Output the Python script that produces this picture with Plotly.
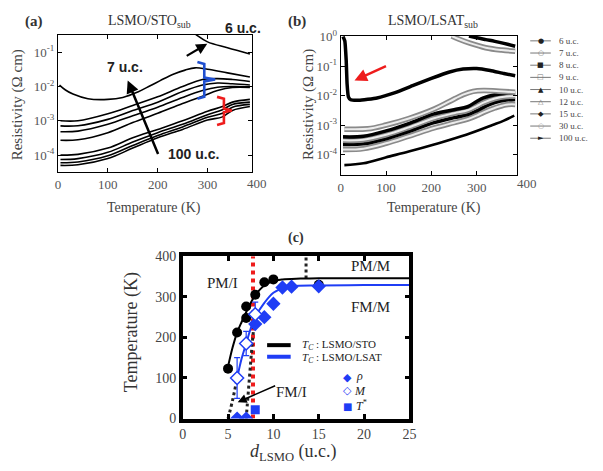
import plotly.graph_objects as go

W, H = 603, 471
def px(x): return x / W
def py(y): return 1 - y / H

SERIF = "Liberation Serif"
SANS = "Liberation Sans"
BLUE = "#1f3df5"
RED = "#ee1c1c"

# ---------------- Panel (a): LSMO/STO resistivity ----------------
T_a6 = [265, 278, 300, 340, 385]
rho_a6 = [0.447, 0.316, 0.200, 0.135, 0.089]
T_a7 = [3, 15, 30, 60, 100, 130, 160, 185, 205, 230, 255, 275, 300, 340, 385]
rho_a7 = [1.10e-2, 7.9e-3, 6.0e-3, 4.4e-3, 4.2e-3, 4.8e-3, 6.9e-3, 1.05e-2,
          1.48e-2, 2.24e-2, 3.0e-2, 3.5e-2, 3.2e-2, 2.5e-2, 1.9e-2]
T_a_up = [5, 40, 100, 150, 200, 250, 290, 320, 350, 385]
rho_a8 = [1.0e-3, 1.0e-3, 1.6e-3, 2.8e-3, 5.0e-3, 1.0e-2, 1.6e-2, 1.7e-2, 1.6e-2, 1.4e-2]
rho_a9 = [7.1e-4, 7.2e-4, 1.1e-3, 2.0e-3, 3.5e-3, 7.1e-3, 1.1e-2, 1.26e-2, 1.2e-2, 1.1e-2]
rho_a10 = [4.8e-4, 5.0e-4, 7.9e-4, 1.4e-3, 2.5e-3, 4.8e-3, 7.6e-3, 9.5e-3, 1.0e-2, 9.8e-3]
rho_a12 = [2.7e-4, 2.8e-4, 4.5e-4, 8.9e-4, 1.66e-3, 3.2e-3, 5.2e-3, 7.6e-3, 9.3e-3, 9.3e-3]
T_a_lo = [5, 40, 100, 150, 200, 250, 300, 330, 350, 385]
rho_a15 = [1.0e-4, 1.05e-4, 1.6e-4, 3.2e-4, 5.6e-4, 1.0e-3, 1.9e-3, 2.6e-3, 3.5e-3, 4.2e-3]
rho_a20 = [7.4e-5, 7.9e-5, 1.2e-4, 2.4e-4, 4.5e-4, 7.9e-4, 1.5e-3, 2.1e-3, 3.0e-3, 3.5e-3]
rho_a30 = [6.0e-5, 6.3e-5, 9.5e-5, 1.9e-4, 3.7e-4, 6.6e-4, 1.26e-3, 1.66e-3, 2.5e-3, 3.0e-3]
rho_a100 = [5.0e-5, 5.2e-5, 7.9e-5, 1.6e-4, 3.2e-4, 5.6e-4, 1.05e-3, 1.3e-3, 2.0e-3, 2.6e-3]

# ---------------- Panel (b): LSMO/LSAT resistivity ----------------
T_b6 = [283, 300, 320, 340, 360, 385]
rho_b6 = [1.05, 0.91, 0.79, 0.69, 0.59, 0.47]
T_b7 = [245, 260, 285, 320, 355, 385]
rho_b7 = [1.05, 0.83, 0.60, 0.42, 0.35, 0.32]
T_b8 = [5, 9, 12, 14, 17, 22, 40, 80, 120, 160, 200, 240, 270, 300, 330, 360, 385]
rho_b8 = [1.0, 0.71, 0.16, 0.025, 8.9e-3, 7.2e-3, 6.9e-3, 8.3e-3, 1.26e-2, 2.2e-2,
          3.8e-2, 6.3e-2, 7.9e-2, 8.3e-2, 7.1e-2, 5.6e-2, 4.7e-2]
T_b9 = [8, 60, 100, 150, 206, 240, 270, 292, 315, 350, 385]
rho_b9 = [7.24e-4, 7.41e-4, 1.0e-3, 1.66e-3, 3.47e-3, 6.31e-3, 1.07e-2, 1.38e-2, 1.48e-2, 1.41e-2, 1.29e-2]
T_b_mid = [5, 50, 100, 150, 206, 250, 280, 300, 315, 340, 365, 385]
rho_b10 = [3.98e-4, 4.17e-4, 6.31e-4, 1.12e-3, 2.40e-3, 3.31e-3, 4.17e-3, 6.31e-3, 8.32e-3, 1.07e-2, 1.20e-2, 1.23e-2]
rho_b12 = [3.02e-4, 3.16e-4, 4.68e-4, 8.32e-4, 1.70e-3, 2.51e-3, 3.16e-3, 4.37e-3, 5.75e-3, 7.94e-3, 9.33e-3, 9.55e-3]
rho_b15 = [2.19e-4, 2.29e-4, 3.39e-4, 6.03e-4, 1.20e-3, 1.78e-3, 2.24e-3, 3.02e-3, 3.98e-3, 5.75e-3, 7.08e-3, 7.41e-3]
rho_b30 = [1.48e-4, 1.58e-4, 2.40e-4, 4.17e-4, 7.94e-4, 1.20e-3, 1.58e-3, 2.09e-3, 2.69e-3, 3.80e-3, 4.90e-3, 5.01e-3]
T_b100 = [8, 50, 99, 150, 206, 277, 335, 360, 383]
rho_b100 = [4.37e-5, 5.01e-5, 7.94e-5, 1.26e-4, 2.19e-4, 4.68e-4, 1.0e-3, 1.41e-3, 2.09e-3]
legend_b = ["6 u.c.", "7 u.c.", "8 u.c.", "9 u.c.", "10 u.c.", "12 u.c.", "15 u.c.", "30 u.c.", "100 u.c."]
legend_b_sym = ["●", "○", "■", "□", "▲", "△", "◆", "○", "►"]
legend_b_col = ["#222", "#777", "#222", "#777", "#222", "#777", "#222", "#999", "#222"]

# ---------------- Panel (c): phase diagram ----------------
d_sto = [5, 6, 7, 7, 8, 9, 10, 15]
Tc_sto = [123, 212, 248, 276, 305, 336, 343, 330]
d_sto_fit = [4.9, 5.5, 6, 6.5, 7, 7.5, 8, 9, 10, 11, 13, 15, 20, 25]
T_sto_fit = [118, 175, 212, 238, 262, 285, 304, 328, 339, 343, 345, 346, 346, 346]
d_rho = [6, 7, 8, 9, 10, 11, 12, 15]
Tc_rho = [0, 0, 233, 250, 283, 323, 325, 326]
d_M = [6, 7, 8]
Tc_M = [100, 185, 257]
err_M = [50, 30, 30]
d_Tstar = [8]
T_star = [22]
d_lsat_fit = [6, 6.5, 7, 7.5, 8, 9, 10, 11, 12, 15, 20, 25]
T_lsat_fit = [100, 148, 185, 222, 250, 285, 310, 321, 326, 328, 329, 329]
d_dot1 = [5, 5.5, 6]
T_dot1 = [0, 45, 100]
d_dot2 = [7, 7.25, 7.5, 7.75, 8]
T_dot2 = [0, 70, 140, 205, 255]
d_red = [7.75, 7.75]
T_red = [0, 400]
d_vdot = [13.6, 13.6]
T_vdot = [345, 400]

fig = go.Figure()

def line(x, y, xa, ya, color="black", width=1.5, dash=None, shape="spline", smoothing=1.0):
    fig.add_trace(go.Scatter(x=x, y=y, xaxis=xa, yaxis=ya, mode="lines",
                             line=dict(color=color, width=width, dash=dash, shape=shape,
                                       smoothing=smoothing if shape == "spline" else None),
                             hoverinfo="skip", showlegend=False))

# panel (a)
for rr, TT in [(rho_a6, T_a6), (rho_a7, T_a7), (rho_a8, T_a_up), (rho_a9, T_a_up),
               (rho_a10, T_a_up), (rho_a12, T_a_up), (rho_a15, T_a_lo), (rho_a20, T_a_lo),
               (rho_a30, T_a_lo), (rho_a100, T_a_lo)]:
    line(TT, rr, "x", "y", width=1.6)

# panel (b)
def hollow(T, r):
    line(T, r, "x2", "y2", color="#8a8a8a", width=5.5)
    line(T, r, "x2", "y2", color="#ececec", width=2)

line(T_b100, rho_b100, "x2", "y2", width=2.6)
hollow(T_b30, rho_b30) if False else None
hollow(T_b_mid, rho_b30)
line(T_b_mid, rho_b15, "x2", "y2", width=3.5)
hollow(T_b_mid, rho_b12)
line(T_b_mid, rho_b10, "x2", "y2", width=3.5)
hollow(T_b9, rho_b9)
line(T_b8, rho_b8, "x2", "y2", width=3.5, smoothing=0.4)
hollow(T_b7, rho_b7)
line(T_b6, rho_b6, "x2", "y2", width=3.5)

# panel (c)
line(d_red, T_red, "x3", "y3", color=RED, width=4, dash="dot", shape="linear")
line(d_vdot, T_vdot, "x3", "y3", color="#222", width=3, dash="dot", shape="linear")
line(d_dot1, T_dot1, "x3", "y3", color="#222", width=3, dash="dot")
line(d_dot2, T_dot2, "x3", "y3", color="#222", width=3, dash="dot")
line(d_sto_fit, T_sto_fit, "x3", "y3", color="black", width=2)
line(d_lsat_fit, T_lsat_fit, "x3", "y3", color=BLUE, width=2)
fig.add_trace(go.Scatter(x=d_sto, y=Tc_sto, xaxis="x3", yaxis="y3", mode="markers",
                         marker=dict(symbol="circle", size=10, color="black"), showlegend=False))
fig.add_trace(go.Scatter(x=d_rho, y=Tc_rho, xaxis="x3", yaxis="y3", mode="markers",
                         marker=dict(symbol="diamond", size=11, color=BLUE), showlegend=False))
fig.add_trace(go.Scatter(x=d_M, y=Tc_M, xaxis="x3", yaxis="y3", mode="markers",
                         error_y=dict(type="data", array=err_M, color=BLUE, thickness=1.2, width=3),
                         marker=dict(symbol="diamond", size=10, color="white",
                                     line=dict(color=BLUE, width=1.5)), showlegend=False))
fig.add_trace(go.Scatter(x=d_Tstar, y=T_star, xaxis="x3", yaxis="y3", mode="markers",
                         marker=dict(symbol="square", size=9, color=BLUE), showlegend=False))

tickfont_ab = dict(family=SERIF, size=13, color="#555")
common_ab = dict(showline=True, linecolor="black", linewidth=1, mirror="allticks", ticks="inside",
                 ticklen=4, tickcolor="black", showgrid=False, zeroline=False, tickfont=tickfont_ab)
logvals_a = [1e-4, 1e-3, 1e-2, 1e-1]
logtext_a = ["10<sup>-4</sup>", "10<sup>-3</sup>", "10<sup>-2</sup>", "10<sup>-1</sup>"]
logvals_b = [1e-4, 1e-3, 1e-2, 1e-1, 1]
logtext_b = ["10<sup>-4</sup>", "10<sup>-3</sup>", "10<sup>-2</sup>", "10<sup>-1</sup>", "10<sup>0</sup>"]
xt = [0, 100, 200, 300]

fig.update_layout(
    width=W, height=H, margin=dict(l=0, r=0, t=0, b=0),
    paper_bgcolor="white", plot_bgcolor="white", showlegend=False,
    xaxis=dict(domain=[px(55), px(253)], anchor="y", range=[0, 390], tickvals=xt, **common_ab),
    yaxis=dict(domain=[py(170), py(28)], anchor="x", type="log", range=[-4.5, -0.5],
               tickvals=logvals_a, ticktext=logtext_a, **common_ab),
    xaxis2=dict(domain=[px(343), px(523)], anchor="y2", range=[0, 390], tickvals=xt, **common_ab),
    yaxis2=dict(domain=[py(173), py(29)], anchor="x2", type="log", range=[-4.7, 0.02],
                tickvals=logvals_b, ticktext=logtext_b, **common_ab),
    xaxis3=dict(domain=[px(182), px(413)], anchor="y3", range=[0, 25], dtick=5,
                showline=True, linecolor="black", linewidth=3.5, mirror="allticks", ticks="inside",
                ticklen=5, tickwidth=2.5, tickcolor="black", showgrid=False, zeroline=False,
                tickfont=dict(family=SERIF, size=14, color="#444")),
    yaxis3=dict(domain=[py(425), py(257)], anchor="x3", range=[0, 400], dtick=100,
                showline=True, linecolor="black", linewidth=3.5, mirror="allticks", ticks="inside",
                ticklen=5, tickwidth=2.5, tickcolor="black", showgrid=False, zeroline=False,
                tickfont=dict(family=SERIF, size=14, color="#444")),
)

ann = []
def text(x, y, t, size=14, family=SERIF, color="#222", angle=0, xanchor="center"):
    ann.append(dict(x=px(x), y=py(y), xref="paper", yref="paper", text=t, showarrow=False,
                    font=dict(family=family, size=size, color=color), textangle=angle,
                    xanchor=xanchor, yanchor="middle"))

def arrow(hx, hy, tx, ty, color="black", width=2.5, head=2, size=1.0):
    ann.append(dict(x=px(hx), y=py(hy), xref="paper", yref="paper", text="", showarrow=True,
                    ax=tx - hx, ay=ty - hy, axref="pixel", ayref="pixel", arrowhead=head,
                    arrowsize=size, arrowwidth=width, arrowcolor=color, standoff=0))

# panel titles and labels
text(31, 14, "<b>(a)</b>", size=15, color="#333")
text(148, 14, "LSMO/STO<sub>sub</sub>", size=14, color="#333")
text(298, 14, "<b>(b)</b>", size=15, color="#333")
text(437, 14, "LSMO/LSAT<sub>sub</sub>", size=14, color="#333")
text(297, 238, "<b>(c)</b>", size=14, color="#333")
# axis titles
text(14, 100, "Resistivity (Ω cm)", size=15, color="#444", angle=-90)
text(153, 207, "Temperature (K)", size=14, color="#444")
text(310, 100, "Resistivity (Ω cm)", size=15, color="#444", angle=-90)
text(438, 207, "Temperature (K)", size=14, color="#444")
text(130, 336, "Temperature (K)", size=18, color="#333", angle=-90)
text(294, 460, "<i>d</i><sub>LSMO</sub> (u.c.)", size=18, color="#333")
# "400" labels at the right end of panels (a),(b)
text(258, 182, "400", size=13, color="#555")
text(533, 182, "400", size=13, color="#555")

# panel (a) annotations
text(243, 21, "<b>6 u.c.</b>", size=14, family=SANS, color="#222")
text(123, 61, "<b>7 u.c.</b>", size=14, family=SANS, color="#222")
text(193, 151, "<b>100 u.c.</b>", size=14, family=SANS, color="#222")
arrow(207, 37, 185, 50, width=2.2)
arrow(126, 75, 157, 150, width=2.5)
arrow(357, 75, 390, 60, color=RED, width=2.5)

# panel (b) legend
legend_rows = [34, 46.6, 59.2, 71.8, 84.4, 97, 109.6, 122.2, 134.8]
shapes = []
for yy, lab, sym, col in zip(legend_rows, legend_b, legend_b_sym, legend_b_col):
    shapes.append(dict(type="line", xref="paper", yref="paper", x0=px(536), x1=px(557),
                       y0=py(yy), y1=py(yy), line=dict(color="#777", width=1)))
    text(546.5, yy, sym, size=7, family="DejaVu Sans", color=col)
    text(563, yy, lab, size=9, color="#444", xanchor="left")

# panel (c) texts
text(223, 285, "PM/I", size=15, color="#222")
text(373, 267, "PM/M", size=15, color="#222")
text(373, 310, "FM/M", size=15, color="#222")
text(293, 398, "FM/I", size=15, color="#222")
arrow(238, 408, 277, 391, width=1.5, size=1.2)
shapes.append(dict(type="line", xref="paper", yref="paper", x0=px(268), x1=px(292),
                   y0=py(349), y1=py(349), line=dict(color="black", width=4)))
shapes.append(dict(type="line", xref="paper", yref="paper", x0=px(268), x1=px(292),
                   y0=py(361), y1=py(361), line=dict(color=BLUE, width=4)))
text(302, 349, "<i>T</i><sub><i>C</i></sub> : LSMO/STO", size=11, color="#222", xanchor="left")
text(302, 362, "<i>T</i><sub><i>C</i></sub> : LSMO/LSAT", size=11, color="#222", xanchor="left")
text(350, 382, "◆", size=11, family="DejaVu Sans", color=BLUE)
text(362, 381, "<i>ρ</i>", size=12, color="#222")
text(350, 396, "◇", size=11, family="DejaVu Sans", color=BLUE)
text(363, 396, "<i>M</i>", size=12, color="#222")
text(350, 412, "■", size=10, family="DejaVu Sans", color=BLUE)
text(364, 411, "<i>T</i><sup>*</sup>", size=12, color="#222")

# brackets
def bracket(x, ytop, ybot, ymid, nub, hook, color):
    pts = [(x - hook, ytop), (x, ytop + 2), (x, ymid - 2), (nub, ymid), (x, ymid + 2),
           (x, ybot - 2), (x - hook, ybot)]
    path = "M " + " L ".join(f"{px(a):.5f},{py(b):.5f}" for a, b in pts)
    shapes.append(dict(type="path", xref="paper", yref="paper", path=path,
                       line=dict(color=color, width=2.6)))

bracket(204, 56, 94, 74, 215, 7, "#1f4fd0")
bracket(224, 92, 121, 106, 232, 7, RED)

fig.update_layout(annotations=ann, shapes=shapes)
fig.write_html("out.html")
